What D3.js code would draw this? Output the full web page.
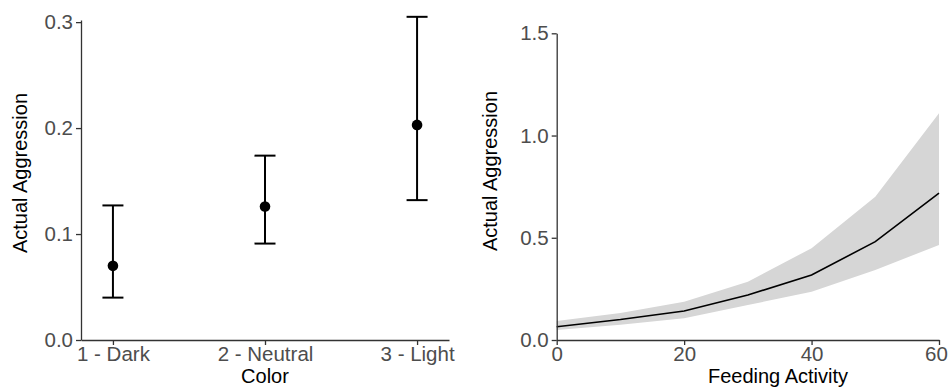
<!DOCTYPE html>
<html lang="en">
<head>
    <meta charset="UTF-8">
    <script src="https://cdnjs.cloudflare.com/ajax/libs/d3/7.8.5/d3.min.js"></script>
    <style>
        body { margin: 0; background: #fff; }
        text { font-family: "Liberation Sans", Arial, sans-serif; }
        .tick text { fill: #4d4d4d; font-size: 20.5px; }
        .domain, .tick line { stroke: #333; stroke-width: 1.3px; }
        .title { font-size: 20px; fill: #000; }
    </style>
</head>
<body>
<svg id="chart" width="949" height="387"></svg>
<script>
    // left panel: estimated means with error bars by colour
    const colors = ['1 - Dark', '2 - Neutral', '3 - Light'];
    const colorMean = [0.070, 0.126, 0.203];
    const colorLow = [0.040, 0.091, 0.132];
    const colorHigh = [0.127, 0.174, 0.305];
    const leftTicks = [0, 0.1, 0.2, 0.3];

    // right panel: predicted curve with ribbon
    const feeding = [0, 10, 20, 30, 40, 50, 60];
    const fitValue = [0.065, 0.100, 0.142, 0.220, 0.318, 0.481, 0.718];
    const fitLow = [0.049, 0.075, 0.106, 0.171, 0.236, 0.342, 0.465];
    const fitHigh = [0.093, 0.132, 0.187, 0.285, 0.449, 0.701, 1.109];
    const rightYTicks = [0, 0.5, 1.0, 1.5];
    const rightXTicks = [0, 20, 40, 60];

    const svg = d3.select('#chart');

    // ---- left ----
    const xL = d3.scalePoint().domain(colors).range([81, 449]).padding(0.21);
    const yL = d3.scaleLinear().domain([0, 0.302]).range([340, 20]);

    svg.append('g')
        .attr('transform', 'translate(0,340)')
        .call(d3.axisBottom(xL).tickSize(5).tickSizeOuter(0).tickPadding(1));
    svg.append('g')
        .attr('transform', 'translate(81,0)')
        .call(d3.axisLeft(yL).tickValues(leftTicks).tickFormat(d3.format('.1f'))
            .tickSize(5).tickSizeOuter(0).tickPadding(3));

    const bars = svg.append('g');
    colors.forEach((c, i) => {
        const cx = xL(c);
        bars.append('line').attr('x1', cx).attr('x2', cx)
            .attr('y1', yL(colorLow[i])).attr('y2', yL(colorHigh[i]))
            .attr('stroke', '#000').attr('stroke-width', 2);
        [colorLow[i], colorHigh[i]].forEach(v => {
            bars.append('line').attr('x1', cx - 10.5).attr('x2', cx + 10.5)
                .attr('y1', yL(v)).attr('y2', yL(v))
                .attr('stroke', '#000').attr('stroke-width', 2);
        });
        bars.append('circle').attr('cx', cx).attr('cy', yL(colorMean[i])).attr('r', 5.3).attr('fill', '#000');
    });

    svg.append('text').attr('class', 'title')
        .attr('x', 265).attr('y', 383).attr('text-anchor', 'middle').text('Color');
    svg.append('text').attr('class', 'title')
        .attr('transform', 'translate(27,173) rotate(-90)').attr('text-anchor', 'middle')
        .text('Actual Aggression');

    // ---- right ----
    const xR = d3.scaleLinear().domain([0, 60]).range([556.7, 939]);
    const yR = d3.scaleLinear().domain([0, 1.5]).range([340, 33.3]);

    const rows = feeding.map((f, i) => ({ f, v: fitValue[i], lo: fitLow[i], hi: fitHigh[i] }));

    svg.append('path').datum(rows)
        .attr('fill', '#d6d6d6')
        .attr('d', d3.area().x(d => xR(d.f)).y0(d => yR(d.lo)).y1(d => yR(d.hi)));
    svg.append('path').datum(rows)
        .attr('fill', 'none').attr('stroke', '#000').attr('stroke-width', 1.6)
        .attr('d', d3.line().x(d => xR(d.f)).y(d => yR(d.v)));

    const xAxisR = svg.append('g')
        .attr('transform', 'translate(0,340)')
        .call(d3.axisBottom(xR).tickValues(rightXTicks).tickSize(5).tickSizeOuter(0).tickPadding(1));
    // keep the last label inside the frame
    xAxisR.selectAll('.tick text').filter(d => d === 60).attr('dx', -3);
    svg.append('g')
        .attr('transform', 'translate(556.7,0)')
        .call(d3.axisLeft(yR).tickValues(rightYTicks).tickFormat(d3.format('.1f'))
            .tickSize(5).tickSizeOuter(0).tickPadding(3));

    svg.append('text').attr('class', 'title')
        .attr('x', 778).attr('y', 383).attr('text-anchor', 'middle').text('Feeding Activity');
    svg.append('text').attr('class', 'title')
        .attr('transform', 'translate(497,171) rotate(-90)').attr('text-anchor', 'middle')
        .text('Actual Aggression');
</script>
</body>
</html>
